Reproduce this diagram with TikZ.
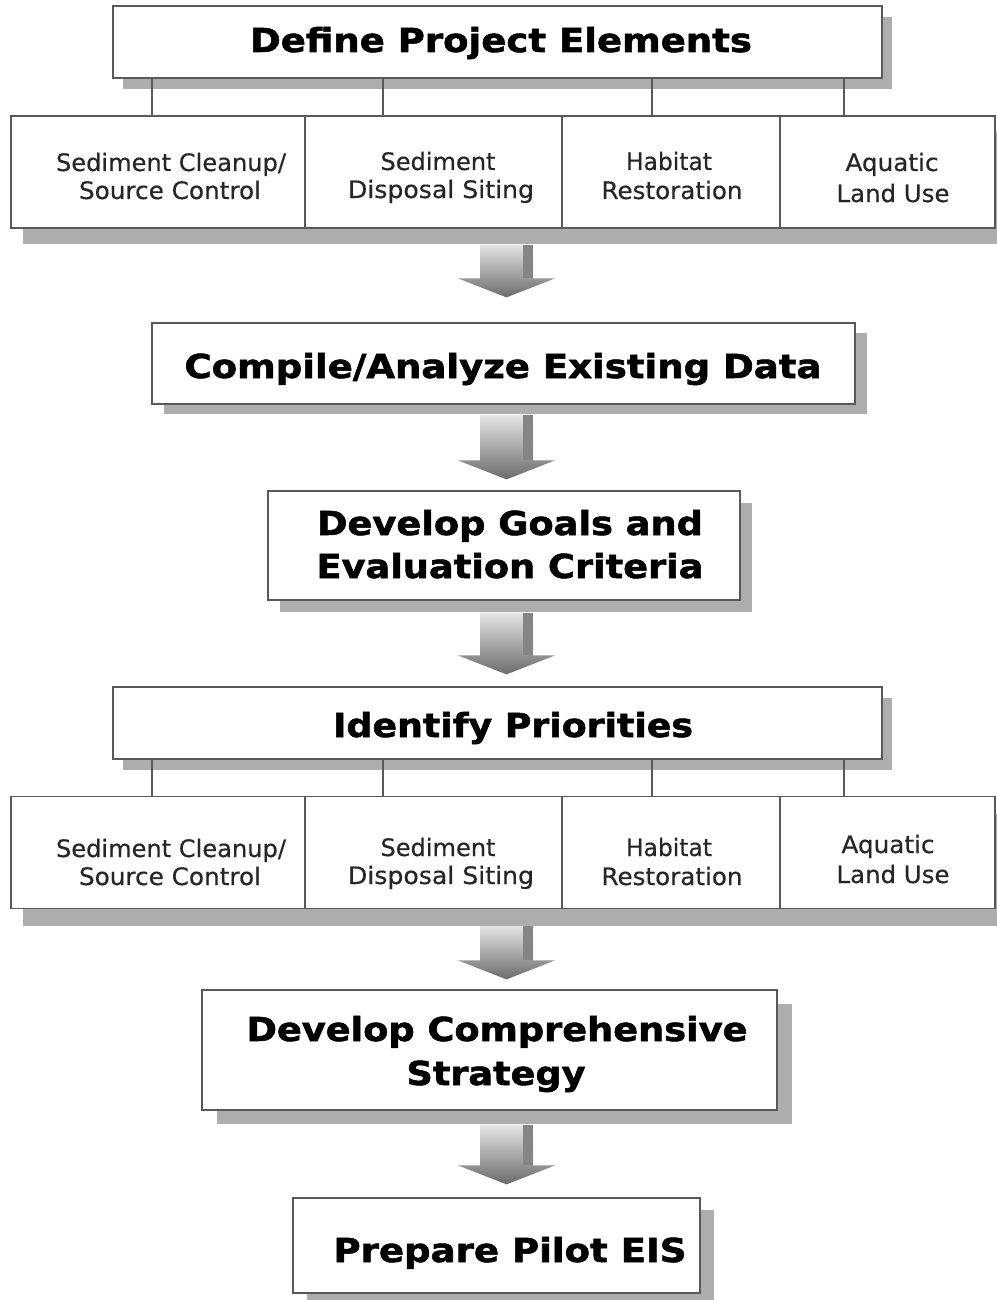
\documentclass[tikz,border=0pt]{standalone}
\usepackage{fontspec}
\usepackage{graphicx}
\usetikzlibrary{calc,shadows}
\newfontfamily\headfont{DejaVu Sans}[BoldFeatures={FakeBold=1.6}]
\newfontfamily\cellfont{DejaVu Sans}[FakeBold=0.4]
% fit a line of text to a given width (in pt), keeping its height
\newcommand\fitw[2]{\resizebox{#1pt}{\height}{#2}}
% block arrow between two nodes: upper node, gap below it, lower node, gap above it
\newcommand\flowarrow[4]{%
  \path[arrowbody] let \p0=(ax), \p1=(#1.south), \p2=(#3.north) in
    (\x0-26.5pt,\y1-#2pt) -- (\x0+26.5pt,\y1-#2pt) -- (\x0+26.5pt,\y2+#4pt+19pt)
    -- (\x0+48.5pt,\y2+#4pt+19pt) -- (\x0,\y2+#4pt) -- (\x0-48.5pt,\y2+#4pt+19pt)
    -- (\x0-26.5pt,\y2+#4pt+19pt) -- cycle;
  \fill[black!48] let \p0=(ax), \p1=(#1.south), \p2=(#3.north) in
    (\x0+16pt,\y1-#2pt) rectangle (\x0+26.5pt,\y2+#4pt+19pt);
}
\tikzset{
  box/.style={draw=black!65, line width=1.2pt, fill=white, inner sep=0pt, rectangle},
  shadowed/.style 2 args={drop shadow={shadow xshift=#1pt, shadow yshift=-#2pt,
      fill=black!32, opacity=1}},
  headtxt/.style={font=\headfont\bfseries\fontsize{33}{44}\selectfont, text=black,
      inner sep=0pt, anchor=base},
  celltxt/.style={font=\cellfont\fontsize{24}{29}\selectfont, text=black!85,
      inner sep=0pt, anchor=base},
  conn/.style={draw=black!65, line width=1.2pt},
  arrowbody/.style={top color=black!10, bottom color=black!58, draw=none},
}
\begin{document}
\begin{tikzpicture}[x=1pt,y=-1pt]
\useasboundingbox (0,0) rectangle (996,1300);
\fill[white] (0,0) rectangle (996,1300);

% reference positions for the arrows and the branch lines
\coordinate (ax) at (506.5,0);
\coordinate (k1) at (152,0);
\coordinate (k2) at (383,0);
\coordinate (k3) at (652,0);
\coordinate (k4) at (844,0);

% ---------- Define Project Elements ----------
\node[box, shadowed={10}{11}, minimum width=769pt, minimum height=72pt] (def) at (497.5,42) {};
\node[headtxt] (def-t) at (501,52) {\fitw{502}{Define Project Elements}};

% first row of project elements
\node[box, shadowed={12}{16}, minimum width=294pt, minimum height=112pt] (c11) at (158,172) {};
\node[box, shadowed={12}{16}, minimum width=257pt, minimum height=112pt] (c12) at (433.5,172) {};
\node[box, shadowed={12}{16}, minimum width=218pt, minimum height=112pt] (c13) at (671,172) {};
\node[box, shadowed={12}{16}, minimum width=215pt, minimum height=112pt] (c14) at (887.5,172) {};
\node[celltxt] (c11-a) at (171,171) {\fitw{230}{Sediment Cleanup/}};
\node[celltxt] (c11-b) at (170,199) {\fitw{182}{Source Control}};
\node[celltxt] (c12-a) at (438,170) {\fitw{115}{Sediment}};
\node[celltxt] (c12-b) at (441,198) {\fitw{186}{Disposal Siting}};
\node[celltxt] (c13-a) at (669,170) {\fitw{86}{Habitat}};
\node[celltxt] (c13-b) at (672,199) {\fitw{141}{Restoration}};
\node[celltxt] (c14-a) at (892,171) {\fitw{93}{Aquatic}};
\node[celltxt] (c14-b) at (893,202) {\fitw{113}{Land Use}};

\draw[conn] (def.south -| k1) -- (c11.north -| k1);
\draw[conn] (def.south -| k2) -- (c12.north -| k2);
\draw[conn] (def.south -| k3) -- (c13.north -| k3);
\draw[conn] (def.south -| k4) -- (c14.north -| k4);

% ---------- Compile/Analyze Existing Data ----------
\node[box, shadowed={12}{10}, minimum width=703pt, minimum height=81pt] (comp) at (503.5,363.5) {};
\node[headtxt] (comp-t) at (503,378) {\fitw{637}{Compile/Analyze Existing Data}};

% ---------- Develop Goals and Evaluation Criteria ----------
\node[box, shadowed={12}{12}, minimum width=472pt, minimum height=109pt] (goals) at (504,545.5) {};
\node[headtxt] (goals-a) at (510,535) {\fitw{386}{Develop Goals and}};
\node[headtxt] (goals-b) at (510,578) {\fitw{387}{Evaluation Criteria}};

% ---------- Identify Priorities ----------
\node[box, shadowed={10}{11}, minimum width=769pt, minimum height=72pt] (iden) at (497.5,723) {};
\node[headtxt] (iden-t) at (513,737) {\fitw{360}{Identify Priorities}};

% second row of project elements
\node[box, shadowed={12}{17}, minimum width=294pt, minimum height=112pt] (c21) at (158,852.5) {};
\node[box, shadowed={12}{17}, minimum width=257pt, minimum height=112pt] (c22) at (433.5,852.5) {};
\node[box, shadowed={12}{17}, minimum width=218pt, minimum height=112pt] (c23) at (671,852.5) {};
\node[box, shadowed={12}{17}, minimum width=215pt, minimum height=112pt] (c24) at (887.5,852.5) {};
\node[celltxt] (c21-a) at (171,857) {\fitw{230}{Sediment Cleanup/}};
\node[celltxt] (c21-b) at (170,885) {\fitw{182}{Source Control}};
\node[celltxt] (c22-a) at (438,856) {\fitw{115}{Sediment}};
\node[celltxt] (c22-b) at (441,884) {\fitw{186}{Disposal Siting}};
\node[celltxt] (c23-a) at (669,856) {\fitw{86}{Habitat}};
\node[celltxt] (c23-b) at (672,885) {\fitw{141}{Restoration}};
\node[celltxt] (c24-a) at (888,853) {\fitw{93}{Aquatic}};
\node[celltxt] (c24-b) at (893,883) {\fitw{113}{Land Use}};

\draw[conn] (iden.south -| k1) -- (c21.north -| k1);
\draw[conn] (iden.south -| k2) -- (c22.north -| k2);
\draw[conn] (iden.south -| k3) -- (c23.north -| k3);
\draw[conn] (iden.south -| k4) -- (c24.north -| k4);

% ---------- Develop Comprehensive Strategy ----------
\node[box, shadowed={15}{14}, minimum width=575pt, minimum height=120pt] (strat) at (489.5,1050) {};
\node[headtxt] (strat-a) at (497,1041) {\fitw{501}{Develop Comprehensive}};
\node[headtxt] (strat-b) at (496,1085) {\fitw{179}{Strategy}};

% ---------- Prepare Pilot EIS ----------
\node[box, shadowed={14}{12}, minimum width=407pt, minimum height=95pt] (prep) at (496.5,1245.5) {};
\node[headtxt] (prep-t) at (510,1262) {\fitw{353}{Prepare Pilot EIS}};

% ---------- block arrows ----------
\flowarrow{c12}{16}{comp}{25}
\flowarrow{comp}{10}{goals}{11}
\flowarrow{goals}{12}{iden}{12}
\flowarrow{c22}{17}{strat}{10}
\flowarrow{strat}{14}{prep}{13}
\end{tikzpicture}
\end{document}
